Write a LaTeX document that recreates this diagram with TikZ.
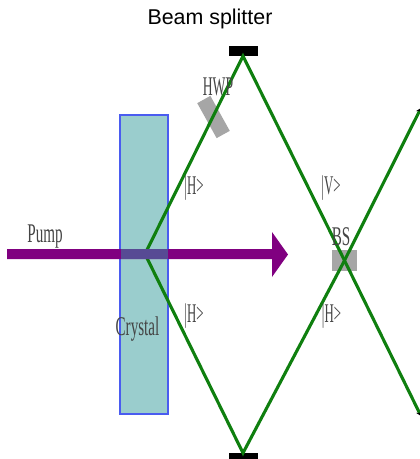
\documentclass[tikz,border=0pt]{standalone}
\usepackage{fontspec}
\setmainfont{Liberation Serif}
\newfontfamily\titlefont{Liberation Sans}
\usetikzlibrary{arrows.meta, positioning, calc}
\definecolor{cbeam}{HTML}{0F7F0F}
\definecolor{cpump}{HTML}{800080}
\definecolor{ccrystal}{HTML}{9ACDCD}
\definecolor{coverlap}{HTML}{574A94}
\definecolor{cblue}{HTML}{4A5CF0}
\definecolor{cgrey}{HTML}{A6A6A6}
\definecolor{clabel}{HTML}{444444}
\tikzset{
  every picture/.style={x=1pt, y=-1pt},
  beam/.style={draw=cbeam, line width=3.1pt},
  outbeam/.style={beam, -{Stealth[length=5pt, width=6pt, color=black]}},
  mirror/.style={fill=black, minimum width=29pt, minimum height=10pt, inner sep=0pt},
  plate/.style={fill=cgrey, inner sep=0pt},
  label/.style={font=\fontsize{27}{27}\selectfont, text=clabel, xscale=0.56, inner sep=0pt},
  ket/.style={label, xscale=0.85},
}

\begin{document}
\begin{tikzpicture}
  \useasboundingbox (0,0) rectangle (420,459);
  \clip (0,0) rectangle (420,459);
  \node[font=\titlefont\fontsize{21.4}{21.4}\selectfont] (title) at (210,19) {Beam splitter};
  % crystal
  \node[draw=cblue, fill=ccrystal, line width=1.8pt, minimum width=48pt, minimum height=299pt, inner sep=0pt] (crystal) at (144.25,264.5) {};
  % mirrors and plates
  \node[mirror, anchor=south] (mirrortop) at (243,56) {};
  \node[mirror, anchor=north] (mirrorbot) at (243,453) {};
  \node[plate, minimum width=15pt, minimum height=40pt, rotate=29] (hwp) at (213.5,117) {};
  \node[plate, minimum width=25pt, minimum height=21pt] (bs) at (344.5,260.5) {};
  % beams
  \coordinate (source) at (145,254);
  \coordinate (outtop) at (421,108);
  \coordinate (outbot) at (421,416);
  \draw[beam] (source) -- (mirrortop.south) -- (bs.center);
  \draw[beam] (source) -- (mirrorbot.north) -- (bs.center);
  \draw[outbeam] (bs.center) -- (outtop);
  \draw[outbeam] (bs.center) -- (outbot);
  % pump
  \fill[cpump] (7,249) -- (272,249) -- (272,232) -- (288,254.5) -- (272,277) -- (272,259) -- (7,259) -- cycle;
  \fill[coverlap] (120.5,249) rectangle (168,259);
  % labels
  \node[label] (pump) at (45,237) {Pump};
  \node[label] (crystallabel) at (137.5,329) {Crystal};
  \node[label, xscale=0.9] (hwplabel) at (218,87) {HWP};
  \node[label] (bslabel) at (341,237) {BS};
  \foreach \n/\x/\y/\t in {ha/194/188/H, hb/194/316/H, hc/331.5/316/H, va/331/188/V}
    \node[ket] (\n) at (\x,\y) {|\t>};
\end{tikzpicture}
\end{document}
